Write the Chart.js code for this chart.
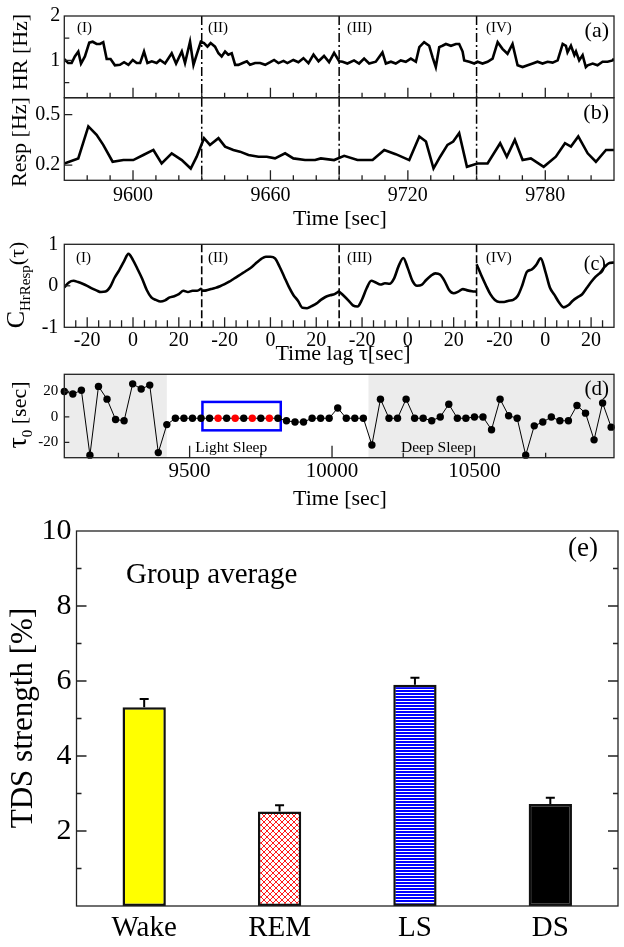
<!DOCTYPE html>
<html><head><meta charset="utf-8">
<script src="https://cdn.jsdelivr.net/npm/chart.js@4.4.0/dist/chart.umd.min.js"></script>
<style>
html,body{margin:0;padding:0;background:#fff;}
#wrap{position:relative;width:624px;height:947px;overflow:hidden;background:#fff;}
canvas{position:absolute;left:0;top:0;}
</style></head><body>
<div id="wrap">
<canvas id="ca" width="624" height="947"></canvas>
<canvas id="cb" width="624" height="947"></canvas>
<canvas id="cc" width="624" height="947"></canvas>
<canvas id="cd" width="624" height="947"></canvas>
<canvas id="ce" width="624" height="947"></canvas>
</div>
<script>
// ---------------- DATA ----------------
// (a) heart rate [Hz]
const hrTime = [9570.0,9571.7,9573.2,9574.6,9576.1,9577.3,9579.0,9580.9,9582.4,9584.1,
9585.6,9587.0,9588.5,9590.2,9592.1,9594.3,9596.1,9598.0,9599.9,9601.6,
9603.1,9604.8,9606.3,9608.2,9610.3,9611.8,9614.0,9616.9,9618.8,9621.3,
9622.7,9624.9,9626.4,9627.8,9629.6,9631.0,9632.5,9633.9,9635.8,9637.3,
9638.7,9640.2,9641.6,9643.1,9644.6,9646.0,9647.9,9649.7,9651.1,9653.3,
9655.5,9657.7,9659.9,9661.6,9663.5,9665.7,9667.4,9670.0,9672.2,9674.4,
9676.6,9678.8,9681.0,
9683.4,9685.6,9687.8,9690.0,9691.5,9693.6,9696.5,9698.7,9700.9,9703.1,
9706.0,9708.9,9710.4,9712.6,9714.7,9716.9,9719.1,9721.3,9723.5,9725.0,
9727.1,9729.3,9730.8,9732.2,9733.7,9735.1,9736.6,9738.8,9741.0,9742.4,
9743.9,9744.6,9746.8,9749.0,9750.4,9752.6,9754.8,9757.0,9759.2,9761.3,
9763.5,9765.7,9767.9,9770.1,9772.3,9774.5,9776.6,9778.8,9781.0,9783.2,
9785.4,9787.6,9789.0,9789.7,9791.2,9792.7,9793.4,9794.8,9796.3,9797.7,
9798.5,9800.7,9802.8,9805.0,9807.2,9809.4,9810.0];
const hrValue = [1.03,0.94,0.94,1.09,1.20,0.93,1.09,1.40,1.42,1.37,
1.37,1.41,1.03,1.03,0.89,0.90,0.96,0.90,1.01,0.94,
0.94,1.20,0.94,0.98,0.94,1.01,0.93,1.16,0.93,1.20,
0.94,1.42,0.90,1.13,1.42,1.39,1.31,1.39,1.31,1.16,
1.09,1.20,1.13,1.16,0.90,0.90,0.94,0.98,0.90,0.94,
0.94,0.90,0.96,1.01,0.94,0.99,0.94,1.01,0.96,1.05,
0.94,1.13,0.98,
1.10,0.96,1.17,0.98,0.97,0.93,1.00,0.93,1.04,0.93,
0.97,1.18,0.93,0.97,0.93,1.00,0.97,1.04,0.97,1.30,
1.41,1.33,1.07,0.85,1.30,1.33,1.37,1.33,1.37,1.37,
1.20,1.00,0.97,0.93,0.97,0.93,0.97,1.04,1.41,1.26,
1.15,1.37,0.89,0.85,0.89,0.93,0.97,0.93,0.97,0.95,
1.00,1.37,1.33,1.18,1.33,1.12,1.20,1.00,1.12,0.85,
0.89,0.93,0.89,0.97,0.97,1.00,1.04];
// (b) respiration [Hz]
const respTime = [9570,9576.1,9580.5,9584.1,9587.0,9591.1,9595.8,9600.1,9604.5,9608.9,
9612.5,9616.9,9621.3,9625.2,9627.8,9631.0,9633.6,9637.3,9640.2,9643.8,
9646.7,9650.4,9654.8,9658.4,9662.0,9666.4,9670.0,9675.1,9679.5,9682.0,
9687.8,9692.2,9698.0,9704.6,9709.7,9714.7,9720.6,9725.0,9727.9,9731.2,
9734.1,9737.3,9739.8,9742.4,9745.8,9750.4,9754.8,9760.3,9763.2,9766.7,
9770.1,9773.7,9779.3,9784.6,9788.6,9791.2,9794.4,9798.5,9802.1,9806.5,9810.0];
const respValue = [0.21,0.24,0.43,0.38,0.32,0.22,0.23,0.23,0.26,0.29,
0.21,0.27,0.23,0.18,0.25,0.36,0.32,0.36,0.31,0.29,
0.28,0.26,0.25,0.25,0.24,0.27,0.24,0.23,0.23,0.24,
0.23,0.255,0.23,0.23,0.29,0.265,0.23,0.37,0.34,0.18,
0.25,0.32,0.34,0.39,0.19,0.21,0.21,0.33,0.25,0.35,
0.23,0.24,0.19,0.25,0.33,0.31,0.37,0.27,0.22,0.29,0.29];
const windowEdges = [9630, 9690, 9750];
const windowNames = ['(I)','(II)','(III)','(IV)'];
// (c) cross-correlation vs time lag, one array per window
const lagGrid = [-30,-28,-26,-24,-22,-20,-18,-16,-14,-12,-10,-8,-6,-4,-2,0,2,4,6,8,10,12,14,16,18,20,22,24,26,28,30];
const corrI   = [-0.04,0.08,0.12,0.09,0.05,0.0,-0.06,-0.11,-0.15,-0.14,-0.03,0.2,0.38,0.58,0.77,0.62,0.4,0.17,-0.1,-0.28,-0.34,-0.38,-0.35,-0.28,-0.25,-0.2,-0.12,-0.15,-0.12,-0.12,-0.06];
const corrII  = [-0.12,-0.11,-0.08,-0.05,-0.01,0.04,0.1,0.17,0.24,0.31,0.38,0.46,0.56,0.65,0.7,0.7,0.66,0.46,0.22,-0.02,-0.22,-0.36,-0.53,-0.54,-0.49,-0.43,-0.34,-0.27,-0.23,-0.2,-0.13];
const corrIII = [-0.14,-0.24,-0.35,-0.47,-0.5,-0.33,-0.06,0.12,0.08,0.03,0.06,0.05,0.18,0.48,0.67,0.42,0.12,0.0,0.02,0.14,0.24,0.3,0.27,0.12,-0.1,-0.18,-0.14,-0.08,-0.11,-0.13,-0.14];
const corrIV  = [0.52,0.26,0.02,-0.2,-0.34,-0.39,-0.39,-0.36,-0.34,-0.24,0.02,0.34,0.39,0.5,0.66,0.35,-0.04,-0.22,-0.4,-0.52,-0.47,-0.36,-0.28,-0.21,-0.06,0.09,0.22,0.32,0.46,0.55,0.56];
const lagTickLabels = [-20, 0, 20];
// (d) time delay tau0 [sec]
const tauTime = [9060,9090,9120,9150,9180,9210,9240,9270,9300,9330,
9360,9390,9420,9450,9480,9510,9540,9570,9600,9630,
9660,9690,9720,9750,9780,9810,9840,9870,9900,9930,
9960,9990,10020,10050,10080,10110,10140,10170,10200,10230,
10260,10290,10320,10350,10380,10410,10440,10470,10500,10530,
10560,10590,10620,10650,10680,10710,10740,10770,10800,10830,
10860,10890,10920,10950,10980];
const tauValue = [20,18,21,-30,24,14,-2,-3,26,22,
25,-28,-6,-1,-1,-1,-1,-1,-1,-1,
-1,-1,-1,-1,-1,-1,-3,-4,-4,-1,
-1,-1,7,-1,-1,-1,-22,14,-1,-1,
14,-1,-1,-3,0,10,-1,-1,0,0,
-10,14,1,-1,-30,-7,-4,0,-3,-3,
9,3,-18,11,-8];
const highlightedTimes = [9600, 9660, 9720, 9780];
const shadedStages = [[9060, 9420], [10128, 10990]];
const boxTimes = [9545, 9820];
const boxTau = [-10.5, 11.8];
const stageTexts = ['Light Sleep', 'Deep Sleep'];
const stageTextTimes = [9520, 10242];
const dTickLabels = [9500, 10000, 10500];
// (e) group average TDS strength [%]
const stages = ['Wake', 'REM', 'LS', 'DS'];
const tdsMean = [5.3, 2.52, 5.9, 2.72];
const tdsErr = [0.22, 0.17, 0.19, 0.17];
const eTickLabels = [2, 4, 6, 8, 10];

// ---------------- SETUP ----------------
const FF = "'Liberation Serif','Times New Roman',Times,serif";
Chart.defaults.font.family = FF;
Chart.defaults.color = '#000';
Chart.defaults.animation = false;
Chart.defaults.responsive = false;
Chart.defaults.maintainAspectRatio = false;
Chart.defaults.plugins.legend.display = false;
Chart.defaults.plugins.tooltip.enabled = false;
const W = 624, H = 947;
const AXW = 60, AXH = 40; // space reserved for tick labels
const fnt = s => ({family: FF, size: s, lineHeight: 1.2});
const pad = (L, R, T, B, axw) => ({left: L - (axw || AXW), right: W - R, top: T, bottom: H - B - AXH});

function yAxis(min, max, vals, size, padding, fmt, axw) {
  return {type: 'linear', position: 'left', min, max,
    afterFit: s => { s.width = axw || AXW; },
    afterBuildTicks: s => { s.ticks = vals.map(v => ({value: v})); },
    grid: {display: false, drawTicks: false}, border: {display: false},
    ticks: {font: fnt(size), padding, color: '#000', callback: fmt}};
}
function xAxis(min, max, vals, size, padding, fmt, show) {
  return {type: 'linear', position: 'bottom', min, max,
    afterFit: s => { s.height = AXH; },
    afterBuildTicks: s => { s.ticks = vals.map(v => ({value: v})); },
    grid: {display: false, drawTicks: false}, border: {display: false},
    ticks: {display: !!show, font: fnt(size), padding, color: '#000', maxRotation: 0, minRotation: 0, autoSkip: false, callback: fmt}};
}
function drawFrame(chart) {
  const {ctx, chartArea: a} = chart;
  ctx.save(); ctx.strokeStyle = '#222'; ctx.lineWidth = 1.3;
  ctx.strokeRect(a.left, a.top, a.right - a.left, a.bottom - a.top); ctx.restore();
}
function tickMarks(chart, axis, vals, len, edge) {
  const {ctx, chartArea: a} = chart; const s = chart.scales[axis];
  ctx.save(); ctx.strokeStyle = '#222'; ctx.lineWidth = 1.3; ctx.beginPath();
  vals.forEach(v => {
    const p = s.getPixelForValue(v);
    if (edge === 'bottom') { ctx.moveTo(p, a.bottom); ctx.lineTo(p, a.bottom - len); }
    else if (edge === 'left') { ctx.moveTo(a.left, p); ctx.lineTo(a.left + len, p); }
    else if (edge === 'right') { ctx.moveTo(a.right, p); ctx.lineTo(a.right - len, p); }
  });
  ctx.stroke(); ctx.restore();
}
function vLine(chart, v, dash, width) {
  const {ctx, chartArea: a} = chart; const p = chart.scales.x.getPixelForValue(v);
  ctx.save(); ctx.setLineDash(dash); ctx.strokeStyle = '#000'; ctx.lineWidth = width;
  ctx.beginPath(); ctx.moveTo(p, a.top); ctx.lineTo(p, a.bottom); ctx.stroke(); ctx.restore();
}
function txt(ctx, s, x, y, size, align) {
  ctx.save(); ctx.font = size + 'px ' + FF; ctx.fillStyle = '#000';
  ctx.textAlign = align || 'left'; ctx.textBaseline = 'alphabetic'; ctx.fillText(s, x, y); ctx.restore();
}
function vTxt(ctx, parts, bx, cy) {
  ctx.save(); ctx.translate(bx, cy); ctx.rotate(-Math.PI / 2); ctx.fillStyle = '#000'; ctx.textBaseline = 'alphabetic';
  let total = 0;
  parts.forEach(p => { ctx.font = p[1] + 'px ' + FF; total += ctx.measureText(p[0]).width; });
  let x = -total / 2;
  parts.forEach(p => { ctx.font = p[1] + 'px ' + FF; ctx.fillText(p[0], x, p[2]); x += ctx.measureText(p[0]).width; });
  ctx.restore();
}
function range(a, b, step, skip) { const r = []; for (let v = a; v <= b + 1e-9; v += step) { if (!skip || !skip.some(s => Math.abs(s - v) < 1e-6)) r.push(v); } return r; }

const timeMajor = [9600, 9660, 9720, 9780];
const timeMinor = range(9580, 9800, 10, timeMajor);

// ---------------- (a) ----------------
new Chart(document.getElementById('ca'), {
  type: 'line',
  data: {datasets: [{data: hrTime.map((t, i) => ({x: t, y: hrValue[i]})), borderColor: '#000', borderWidth: 2.6, pointRadius: 0, tension: 0, fill: false}]},
  options: {
    layout: {padding: pad(64.3, 614, 15, 97.7)},
    scales: {x: xAxis(9570, 9810, [], 20, 0, v => '', false),
             y: yAxis(0.16, 2, [1, 2], 20, 4, v => String(v))},
  },
  plugins: [{id: 'pa', afterDraw(chart) {
    const ctx = chart.ctx;
    windowEdges.forEach(v => vLine(chart, v, [9, 3, 2, 3], 1.5));
    drawFrame(chart);
    tickMarks(chart, 'x', timeMajor, 10, 'bottom');
    tickMarks(chart, 'x', timeMinor, 5, 'bottom');
    tickMarks(chart, 'y', [1], 8, 'left');
    tickMarks(chart, 'y', [0.5, 1.5], 5, 'left');
    const xs = [77, 208, 347, 486];
    windowNames.forEach((n, i) => txt(ctx, n, xs[i], 32, 15));
    txt(ctx, '(a)', 609, 37, 22, 'right');
    vTxt(ctx, [['HR [Hz]', 22, 0]], 27, 52);
  }}]
});

// ---------------- (b) ----------------
new Chart(document.getElementById('cb'), {
  type: 'line',
  data: {datasets: [{data: respTime.map((t, i) => ({x: t, y: respValue[i]})), borderColor: '#000', borderWidth: 2.6, pointRadius: 0, tension: 0, fill: false}]},
  options: {
    layout: {padding: pad(64.3, 614, 97.7, 180.3)},
    scales: {x: xAxis(9570, 9810, timeMajor, 20, 3, v => String(v), true),
             y: yAxis(0.11, 0.6, [0.2, 0.5], 20, 4, v => v.toFixed(1))},
  },
  plugins: [{id: 'pb', afterDraw(chart) {
    const ctx = chart.ctx;
    windowEdges.forEach(v => vLine(chart, v, [9, 3, 2, 3], 1.5));
    drawFrame(chart);
    tickMarks(chart, 'x', timeMajor, 10, 'bottom');
    tickMarks(chart, 'x', timeMinor, 5, 'bottom');
    tickMarks(chart, 'y', [0.2, 0.5], 8, 'left');
    txt(ctx, '(b)', 609, 119, 22, 'right');
    vTxt(ctx, [['Resp [Hz]', 22, 0]], 26, 142);
    txt(ctx, 'Time [sec]', 340, 225, 22, 'center');
  }}]
});

// ---------------- (c) ----------------
const corrSets = [corrI, corrII, corrIII, corrIV];
const lagTicksAll = [];
const lagMinorAll = [];
for (let k = 0; k < 4; k++) {
  lagTickLabels.forEach(l => lagTicksAll.push(60 * k + 30 + l));
  [-25, -15, -10, -5, 5, 10, 15, 25].forEach(l => lagMinorAll.push(60 * k + 30 + l));
}
new Chart(document.getElementById('cc'), {
  type: 'line',
  data: {datasets: corrSets.map((set, k) => ({
    data: lagGrid.map((l, i) => ({x: 60 * k + 30 + l, y: set[i]})),
    borderColor: '#000', borderWidth: 2.6, pointRadius: 0, cubicInterpolationMode: 'monotone', fill: false}))},
  options: {
    layout: {padding: pad(64.3, 614, 244.3, 327.3)},
    scales: {x: xAxis(0, 240, lagTicksAll, 20, 1, v => String(v - 60 * Math.floor(v / 60) - 30), true),
             y: yAxis(-1, 1, [-1, 0, 1], 20, 6, v => String(v))},
  },
  plugins: [{id: 'pc', afterDraw(chart) {
    const ctx = chart.ctx;
    [60, 120, 180].forEach(v => vLine(chart, v, [8, 3], 1.6));
    drawFrame(chart);
    tickMarks(chart, 'x', lagTicksAll, 10, 'bottom');
    tickMarks(chart, 'x', lagMinorAll, 7, 'bottom');
    tickMarks(chart, 'y', [0], 6, 'left');
    const xs = [76, 208, 347, 486];
    windowNames.forEach((n, i) => txt(ctx, n, xs[i], 262, 15));
    txt(ctx, '(c)', 606, 270, 20, 'right');
    vTxt(ctx, [['C', 26, 0], ['HrResp', 15, 6], ['(τ)', 22, 0]], 24, 285);
    txt(ctx, 'Time lag τ[sec]', 343, 360, 22, 'center');
  }}]
});

// ---------------- (d) ----------------
new Chart(document.getElementById('cd'), {
  type: 'scatter',
  data: {datasets: [{data: tauTime.map((t, i) => ({x: t, y: tauValue[i]})), showLine: true,
    borderColor: '#000', borderWidth: 1, pointRadius: 3.7, pointBorderWidth: 0,
    pointBackgroundColor: tauTime.map(t => highlightedTimes.includes(t) ? '#ff0000' : '#000'), clip: false}]},
  options: {
    layout: {padding: pad(64.3, 614, 374.3, 457.7)},
    scales: {x: xAxis(9060, 10990, dTickLabels, 21, 1.5, v => String(v), true),
             y: yAxis(-32, 33.5, [-20, 0, 20], 15, 6, v => String(v))},
  },
  plugins: [{id: 'pd',
    beforeDatasetsDraw(chart) {
      const {ctx, chartArea: a} = chart; const x = chart.scales.x, y = chart.scales.y;
      ctx.save(); ctx.fillStyle = '#ececec';
      shadedStages.forEach(r => { const p0 = x.getPixelForValue(r[0]), p1 = x.getPixelForValue(r[1]); ctx.fillRect(p0, a.top, p1 - p0, a.bottom - a.top); });
      ctx.strokeStyle = '#0000ff'; ctx.lineWidth = 2.5;
      const bx0 = x.getPixelForValue(boxTimes[0]), bx1 = x.getPixelForValue(boxTimes[1]);
      const by0 = y.getPixelForValue(boxTau[1]), by1 = y.getPixelForValue(boxTau[0]);
      ctx.strokeRect(bx0, by0, bx1 - bx0, by1 - by0);
      ctx.restore();
      stageTexts.forEach((s, i) => txt(ctx, s, x.getPixelForValue(stageTextTimes[i]), 452, 15.5));
    },
    afterDraw(chart) {
      const ctx = chart.ctx;
      drawFrame(chart);
      tickMarks(chart, 'x', dTickLabels, 12, 'bottom');
      tickMarks(chart, 'x', [9250, 9750, 10250, 10750], 5, 'bottom');
      tickMarks(chart, 'y', [-20, 0, 20], 5, 'left');
      txt(ctx, '(d)', 609, 395, 21, 'right');
      vTxt(ctx, [['τ', 28, 0], ['0', 15, 6], [' [sec]', 22, 0]], 26, 415);
      txt(ctx, 'Time [sec]', 340, 505, 22, 'center');
    }}]
});

// ---------------- (e) ----------------
const ectx = document.getElementById('ce').getContext('2d');
function hatchPattern() {
  const c = document.createElement('canvas'); c.width = 6; c.height = 6;
  const g = c.getContext('2d'); g.fillStyle = '#fff'; g.fillRect(0, 0, 6, 6);
  g.strokeStyle = '#ff0000'; g.lineWidth = 0.9; g.beginPath();
  g.moveTo(0, 0); g.lineTo(6, 6); g.moveTo(6, 0); g.lineTo(0, 6); g.stroke();
  return ectx.createPattern(c, 'repeat');
}
function stripePattern() {
  const c = document.createElement('canvas'); c.width = 4; c.height = 3;
  const g = c.getContext('2d'); g.fillStyle = '#fff'; g.fillRect(0, 0, 4, 3);
  g.fillStyle = '#0000ff'; g.fillRect(0, 0, 4, 2);
  return ectx.createPattern(c, 'repeat');
}
const barFills = ['#ffff00', hatchPattern(), stripePattern(), '#000000'];
new Chart(ectx, {
  type: 'bar',
  data: {labels: stages, datasets: [{data: tdsMean, backgroundColor: barFills, borderColor: '#111', borderWidth: 2.5, borderSkipped: false, barPercentage: 0.32, categoryPercentage: 1}]},
  options: {
    layout: {padding: pad(76.5, 618, 531, 906, 72)},
    scales: {
      x: {type: 'category', position: 'bottom', afterFit: s => { s.height = AXH; },
          grid: {display: false, drawTicks: false}, border: {display: false},
          ticks: {font: fnt(29), padding: 4.5, color: '#000', maxRotation: 0, autoSkip: false}},
      y: yAxis(0, 10, eTickLabels, 30, 5, v => String(v), 72)
    },
  },
  plugins: [{id: 'pe', afterDraw(chart) {
    const ctx = chart.ctx; const y = chart.scales.y; const meta = chart.getDatasetMeta(0);
    ctx.save(); ctx.strokeStyle = '#000'; ctx.lineWidth = 2;
    meta.data.forEach((bar, i) => {
      const x = bar.x, y0 = y.getPixelForValue(tdsMean[i]), y1 = y.getPixelForValue(tdsMean[i] + tdsErr[i]);
      ctx.beginPath(); ctx.moveTo(x, y0); ctx.lineTo(x, y1); ctx.moveTo(x - 4.5, y1); ctx.lineTo(x + 4.5, y1); ctx.stroke();
    });
    ctx.restore();
    drawFrame(chart);
    ['left', 'right'].forEach(side => {
      tickMarks(chart, 'y', [2, 4, 6, 8], 10, side);
      tickMarks(chart, 'y', [1, 3, 5, 7, 9], 5, side);
    });
    txt(ctx, 'Group average', 126, 583, 29);
    txt(ctx, '(e)', 598, 556, 27, 'right');
    vTxt(ctx, [['TDS strength [%]', 31, 0]], 32, 718);
  }}]
});
</script>
</body></html>
